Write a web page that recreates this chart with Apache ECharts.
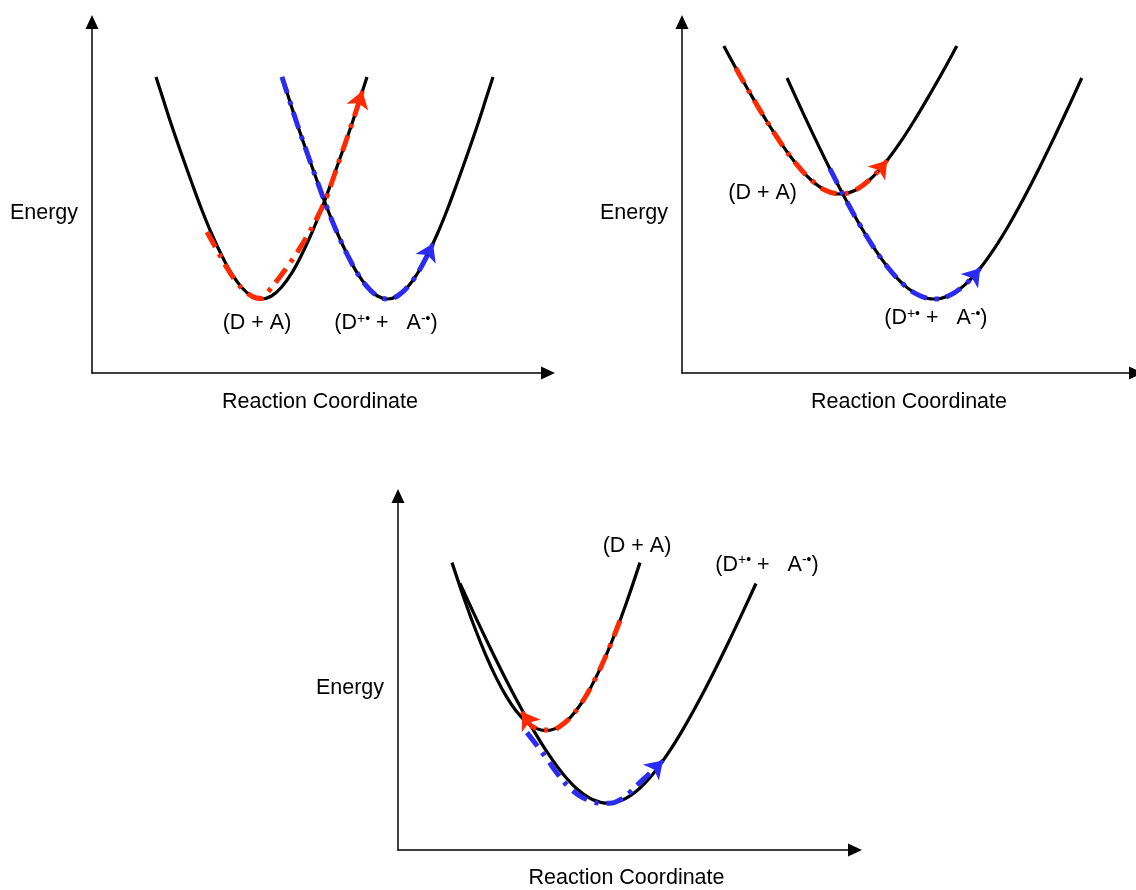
<!DOCTYPE html>
<html>
<head>
<meta charset="utf-8">
<title>Electron transfer: energy vs reaction coordinate</title>
<script src="https://cdn.jsdelivr.net/npm/echarts@6/dist/echarts.min.js"></script>
<style>
  html, body { margin: 0; padding: 0; background: #fff; }
  #chart { width: 1136px; height: 890px; }
</style>
</head>
<body>
<div id="chart"></div>
<script>
// ---- data (x = reaction coordinate, y = energy, arbitrary units per panel) ----

// panel 1: normal region
const p1Reactant = [[64, 296], [69.5, 279], [79.5, 248], [89.5, 219], [99.5, 191], [109.5, 164], [119.5, 139.5], [129.5, 118], [139.5, 99.6], [149.5, 85.8], [159.5, 77], [169.5, 74], [179.5, 77], [189.5, 85.8], [199.5, 99.6], [209.5, 118], [219.5, 139.5], [229.5, 164], [239.5, 191], [249.5, 219], [259.5, 248], [269.5, 279], [275, 296]];
const p1Product = [[190, 296], [195.5, 279], [205.5, 248], [215.5, 219], [225.5, 191], [235.5, 164], [245.5, 139.5], [255.5, 118], [265.5, 99.6], [275.5, 85.8], [285.5, 77], [295.5, 74], [305.5, 77], [315.5, 85.8], [325.5, 99.6], [335.5, 118], [345.5, 139.5], [355.5, 164], [365.5, 191], [375.5, 219], [385.5, 248], [395.5, 279], [401, 296]];
const p1RedPath = [[115, 141], [124.5, 124], [134.5, 106], [144.5, 91], [154.5, 80.5], [164.5, 75], [169.5, 74.5], [176, 81], [187, 95], [198, 110], [211, 130], [225, 155], [235, 177], [240, 191], [249.5, 219], [259.5, 248], [268, 274]];
const p1RedHead = [[268, 274], [270.5, 282]];
const p1BluePath = [[190, 296], [195.5, 279], [205.5, 248], [215.5, 219], [225.5, 191], [235.5, 164], [245.5, 139.5], [255.5, 118], [265.5, 99.6], [275.5, 85.8], [285.5, 77], [295.5, 74], [305.5, 77], [315.5, 85.8], [325.5, 99.6], [335.5, 118]];
const p1BlueHead = [[335.5, 118], [341, 129.4]];

// panel 2: activationless region
const p2Reactant = [[42, 327], [54, 305], [69, 278.7], [84, 253.6], [99, 230.4], [114, 210], [129, 193.7], [144, 182.8], [159, 179], [174, 182.8], [189, 193.7], [204, 210], [219, 230.4], [234, 253.6], [249, 278.7], [264, 305], [276, 327]];
const p2Product = [[105.5, 295], [118.5, 266.7], [133.5, 234.9], [148.5, 204.3], [163.5, 175.3], [178.5, 148.3], [193.5, 124.1], [208.5, 103.5], [223.5, 87.6], [238.5, 77.5], [253.5, 74], [268.5, 77.5], [283.5, 87.6], [298.5, 103.5], [313.5, 124.1], [328.5, 148.3], [343.5, 175.3], [358.5, 204.3], [373.5, 234.9], [388.5, 266.7], [401.5, 295]];
const p2RedPath = [[54, 305], [69, 278.7], [84, 253.6], [99, 230.4], [114, 210], [129, 193.7], [144, 182.8], [159, 179], [174, 182.8], [189, 193.7], [200, 205.3]];
const p2RedHead = [[200, 205.3], [206, 212.6]];
const p2BluePath = [[148.5, 204.3], [163.5, 175.3], [178.5, 148.3], [193.5, 124.1], [208.5, 103.5], [223.5, 87.6], [238.5, 77.5], [253.5, 74], [268.5, 77.5], [283.5, 87.6], [293.5, 97.6]];
const p2BlueHead = [[293.5, 97.6], [299.5, 104.8]];

// panel 3: inverted region
const p3Reactant = [[54, 289], [68, 247.4], [78, 220.2], [88, 195.5], [98, 173.6], [108, 155], [118, 140], [128, 129], [138, 122.3], [148, 120], [158, 122.3], [168, 129], [178, 140], [188, 155], [198, 173.6], [208, 195.5], [218, 220.2], [228, 247.4], [242, 289]];
const p3Product = [[62, 268], [75, 239.7], [90, 207.9], [105, 177.3], [120, 148.3], [135, 121.3], [150, 97.1], [165, 76.5], [180, 60.6], [195, 50.5], [210, 47], [225, 50.5], [240, 60.6], [255, 76.5], [270, 97.1], [285, 121.3], [300, 148.3], [315, 177.3], [330, 207.9], [345, 239.7], [358, 268]];
const p3RedPath = [[222, 230.8], [213, 207.6], [203, 184.2], [193, 163.9], [183, 147], [173, 134], [163, 125.1], [153, 120.6], [143, 120.6], [133, 125.1]];
const p3RedHead = [[133, 125.1], [124, 139]];
const p3BluePath = [[129, 118], [139, 105], [150, 90], [160, 76], [170, 64], [181, 55], [192, 49.5], [202, 47], [212, 47], [222, 50.5], [232, 58], [242, 68], [256, 81]];
const p3BlueHead = [[256, 81], [265, 90]];

// state labels: [x, y, text]
const reactantName = '(D + A)';
const productName = '(D{s|+\u2022} +   A{s|-\u2022})';
const p1Labels = [[165, 50, reactantName], [294, 50, productName]];
const p2Labels = [[81, 180, reactantName], [255, 55, productName]];
const p3Labels = [[239, 306, reactantName], [369, 287, productName]];

const xTitle = 'Reaction Coordinate';
const yTitle = 'Energy';

// ---- styling ----
const FONT = "'Liberation Sans', Arial, Helvetica, sans-serif";
const FONT_SIZE = 21.5;
const RED = '#ff2a00';
const BLUE = '#2b2bf2';
const DASH_DOT = [17, 8, 4, 8];

const grids = [
  { left: 92, top: 22, width: 456, height: 351 },
  { left: 682, top: 22, width: 456, height: 351 },
  { left: 398, top: 496, width: 457, height: 356 }
];

function xAxisFor(i) {
  return {
    type: 'value', gridIndex: i, min: 0, max: grids[i].width,
    name: xTitle, nameLocation: 'middle', nameGap: i === 2 ? 17 : 18,
    nameTextStyle: { fontFamily: FONT, fontSize: FONT_SIZE, color: '#000' },
    axisLine: { show: true, onZero: false, symbol: ['none', 'triangle'], symbolSize: [13, 14],
      lineStyle: { color: '#000', width: 1.5 } },
    axisTick: { show: false }, axisLabel: { show: false }, splitLine: { show: false }
  };
}

function yAxisFor(i) {
  return {
    type: 'value', gridIndex: i, min: 0, max: grids[i].height,
    name: yTitle, nameLocation: 'middle', nameRotate: 0, nameGap: 14,
    nameTextStyle: { fontFamily: FONT, fontSize: FONT_SIZE, color: '#000',
      verticalAlign: 'top', lineHeight: 31 },
    axisLine: { show: true, onZero: false, symbol: ['none', 'triangle'], symbolSize: [13, 14],
      lineStyle: { color: '#000', width: 1.5 } },
    axisTick: { show: false }, axisLabel: { show: false }, splitLine: { show: false }
  };
}

function curve(i, data) {
  return {
    type: 'line', xAxisIndex: i, yAxisIndex: i, data: data, smooth: 0.4,
    showSymbol: false, silent: true, z: 2,
    lineStyle: { color: '#000', width: 3.2 }
  };
}

function path(i, data, color) {
  return {
    type: 'line', xAxisIndex: i, yAxisIndex: i, data: data, smooth: 0.4,
    showSymbol: false, silent: true, z: 3,
    lineStyle: { color: color, width: 5, type: DASH_DOT, cap: 'butt' }
  };
}

function head(i, coords, color) {
  return {
    type: 'lines', coordinateSystem: 'cartesian2d', xAxisIndex: i, yAxisIndex: i,
    silent: true, z: 4, symbol: ['none', 'arrow'], symbolSize: 17,
    lineStyle: { color: color, width: 4.5, opacity: 1, curveness: 0 },
    data: [{ coords: coords }]
  };
}

function labels(i, items) {
  return {
    type: 'scatter', xAxisIndex: i, yAxisIndex: i, symbolSize: 1, silent: true, z: 5,
    itemStyle: { color: 'rgba(0,0,0,0)', opacity: 1 },
    label: {
      show: true, position: 'inside', color: '#000', opacity: 1,
      fontFamily: FONT, fontSize: FONT_SIZE,
      formatter: function (p) { return p.data.text; },
      rich: { s: { fontFamily: FONT, fontSize: 14, color: '#000', verticalAlign: 'top', lineHeight: 13 } }
    },
    data: items.map(function (d) { return { value: [d[0], d[1]], text: d[2] }; })
  };
}

const panels = [
  [p1Reactant, p1Product, p1RedPath, p1RedHead, p1BluePath, p1BlueHead, p1Labels],
  [p2Reactant, p2Product, p2RedPath, p2RedHead, p2BluePath, p2BlueHead, p2Labels],
  [p3Reactant, p3Product, p3RedPath, p3RedHead, p3BluePath, p3BlueHead, p3Labels]
];

const series = [];
panels.forEach(function (p, i) {
  series.push(curve(i, p[0]));
  series.push(curve(i, p[1]));
  series.push(path(i, p[2], RED));
  series.push(head(i, p[3], RED));
  series.push(path(i, p[4], BLUE));
  series.push(head(i, p[5], BLUE));
  series.push(labels(i, p[6]));
});

const chart = echarts.init(document.getElementById('chart'));
chart.setOption({
  animation: false,
  backgroundColor: '#fff',
  grid: grids,
  xAxis: [xAxisFor(0), xAxisFor(1), xAxisFor(2)],
  yAxis: [yAxisFor(0), yAxisFor(1), yAxisFor(2)],
  series: series
});
</script>
</body>
</html>
